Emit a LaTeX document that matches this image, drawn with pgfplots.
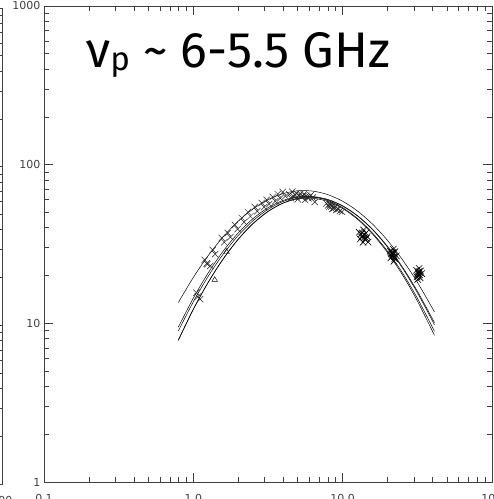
\documentclass[border=0pt]{standalone}
\usepackage{fontspec}
\setmainfont{DejaVu Sans}
\newfontfamily\titlefont{Fira Sans}
\usepackage{pgfplots}
\usepackage{pgfplotstable}
\pgfplotsset{compat=1.18}
\pgfplotstableread{
x c1 c2 c3 c4 c5
0.794 13.53 8.96 7.88 7.80 9.47
1.000 19.47 13.68 12.28 12.24 14.41
1.259 26.76 19.83 18.14 18.17 20.81
1.585 35.11 27.30 25.40 25.52 28.52
1.995 43.99 35.69 33.71 33.92 37.08
2.512 52.65 44.33 42.41 42.67 45.74
3.162 60.17 52.29 50.59 50.78 53.54
3.981 65.67 58.56 57.20 57.19 59.47
5.012 68.45 62.30 61.32 60.94 62.68
6.310 68.14 62.95 62.30 61.45 62.68
7.943 64.77 60.41 60.02 58.63 59.47
10.00 58.80 55.06 54.81 52.93 53.54
12.59 50.98 47.64 47.45 45.22 45.74
15.85 42.21 39.17 38.94 36.55 37.08
19.95 33.37 30.58 30.29 27.96 28.52
25.12 25.20 22.67 22.34 20.24 20.81
31.62 18.17 15.97 15.62 13.86 14.41
41.20 11.80 10.10 9.80 8.40 8.90
}\curves
\pgfplotsset{
  idl/.style={
    width=448pt, height=476pt, scale only axis,
    axis line style={black!75, line width=0.8pt},
    major tick length=9pt, minor tick length=5pt,
    every tick/.style={black!75, line width=0.8pt},
    tick label style={font=\fontsize{11}{13}\selectfont, text=black!75},
    xticklabel style={yshift=-9pt},
  }
}
\begin{document}
\begin{tikzpicture}
\useasboundingbox (0,0) rectangle (494pt,499pt);
% neighbouring panel (only its right edge is visible)
\begin{loglogaxis}[idl, at={(-446pt,15pt)}, anchor=south west,
    xmin=0.1, xmax=100, ymin=1, ymax=1000,
    xtick={0.1,1,10,100}, xticklabels={0.1,1.0,10.0,100},
    ytick={1,10,100,1000}, yticklabels={1,10,100,1000},
    minor xtick={0.2,0.3,0.4,0.5,0.6,0.7,0.8,0.9,2,3,4,5,6,7,8,9,20,30,40,50,60,70,80,90},
    minor ytick={2,3,4,5,6,7,8,9,20,30,40,50,60,70,80,90,200,300,400,500,600,700,800,900}]
\addplot[draw=none] coordinates {(1,10)};
\end{loglogaxis}
\begin{loglogaxis}[idl, at={(44pt,17pt)}, anchor=south west,
    xmin=0.1, xmax=100, ymin=1, ymax=1000,
    xtick={0.1,1,10,100}, xticklabels={0.1,1.0,10.0,100},
    ytick={1,10,100,1000}, yticklabels={1,10,100,1000},
    minor xtick={0.2,0.3,0.4,0.5,0.6,0.7,0.8,0.9,2,3,4,5,6,7,8,9,20,30,40,50,60,70,80,90},
    minor ytick={2,3,4,5,6,7,8,9,20,30,40,50,60,70,80,90,200,300,400,500,600,700,800,900}]
\addplot[black, line width=0.5pt, smooth, no markers] table[x=x, y=c1] {\curves};
\addplot[black, line width=0.5pt, smooth, no markers] table[x=x, y=c2] {\curves};
\addplot[black, line width=0.5pt, smooth, no markers] table[x=x, y=c3] {\curves};
\addplot[black, line width=0.5pt, smooth, no markers] table[x=x, y=c4] {\curves};
\addplot[black, line width=0.5pt, smooth, no markers] table[x=x, y=c5] {\curves};
\addplot[only marks, mark=x, mark size=4.5pt, black!85, mark options={line width=0.5pt}] coordinates {
(1.19,25.1) (1.35,29) (1.55,34.5) (1.70,37.1) (1.90,41.7) (2.11,46.2) (2.32,50.3) (2.58,54.1) (2.87,57.4) (3.10,60.0) (3.40,62.6) (3.67,65.3) (3.97,67.3)
(1.24,23.6) (1.40,27.3) (1.61,32.4) (1.77,34.9) (1.98,39.2) (2.19,43.4) (2.41,47.3) (2.68,50.9) (2.98,54.0) (3.22,56.4) (3.54,58.8) (3.82,61.4) (4.13,63.3)
(4.4,65) (4.6,67.5) (4.7,63) (4.9,66) (5.1,64) (5.3,62.5) (5.5,65) (5.7,63.5) (5.9,61.5) (6.1,64) (6.3,62) (4.5,61.5) (5.0,60.5) (6.5,58.2) (5.6,60)
(4.8,64.5) (5.2,65.5) (5.4,63.5) (5.8,62.5) (6.0,62.8)
(7.8,57) (8.0,55.5) (8.2,56.5) (8.4,54.5) (8.6,55.5) (8.8,53.5) (9.0,54.5) (9.3,52.5) (9.6,51) (8.5,52.5) (9.9,50.5)
(8.1,54.2) (8.7,53.0) (9.1,52.0) (8.3,55.8)
(1.07,14.7) (1.05,15.6) (1.11,14.2) (1.23,23.8) (1.30,23.0)
};
\addplot[only marks, mark=x, mark size=4.5pt, black, mark options={line width=0.6pt}] coordinates {
(13.6,35.6) (12.9,37.5) (14.3,37) (13.1,34) (14.1,33.8) (13.8,38.8) (14.6,35.2) (13.3,36.5) (14.8,32.5) (13.7,32.4)
(13.4,35.0) (14.0,36.2) (13.9,34.6) (13.5,37.2) (14.4,34.3)
(21.6,27) (20.8,28.5) (22.4,28.3) (21.0,25.8) (22.3,25.5) (21.8,29.3) (22.9,26.6) (21.2,27.4) (22.0,24.6)
(21.4,26.4) (21.9,27.8) (22.1,26.2) (21.5,28.0)
(32.2,20.5) (31.2,21.6) (33.2,21.4) (31.5,19.6) (33.0,19.4) (32.5,22.2) (33.8,20.6) (31.8,18.9)
(32.0,20.9) (32.7,20.2) (32.4,21.2) (31.9,20.0)
};
\addplot[only marks, mark=triangle, mark size=3.2pt, black, mark options={line width=0.45pt}] coordinates {(1.39,18.8) (1.67,28.2)};
\end{loglogaxis}
\node[anchor=base west, inner sep=0pt] at (86pt,431pt) {\titlefont\fontsize{50}{52}\selectfont ν\raisebox{-3pt}{\fontsize{33}{35}\selectfont p} \textasciitilde{} 6-5.5 GHz};
\end{tikzpicture}
\end{document}
